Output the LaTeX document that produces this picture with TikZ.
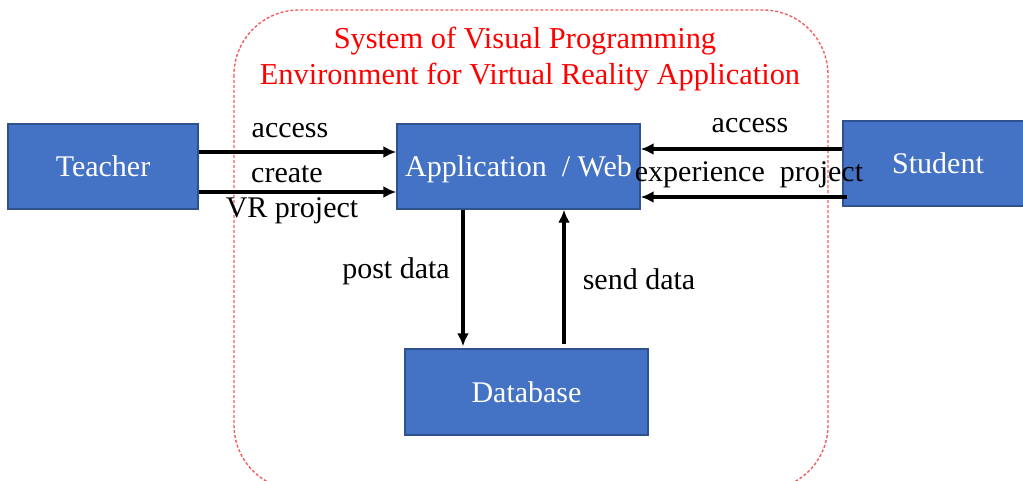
\documentclass[tikz,border=0pt]{standalone}
\usepackage{fontspec}
\setmainfont{Liberation Serif}
\usetikzlibrary{arrows.meta}
\definecolor{boxfill}{HTML}{4472C4}
\definecolor{boxedge}{HTML}{2F528F}
\definecolor{sysedge}{RGB}{240,95,95}
\begin{document}
\begin{tikzpicture}[x=1pt,y=-1pt,
  txt/.style={font=\fontsize{30}{35}\selectfont, inner sep=0pt},
  entity/.style={txt, draw=boxedge, line width=1.4pt, fill=boxfill, text=white,
    text height=20pt, text depth=0pt},
  lbl/.style={txt, anchor=base, text=black},
  flow/.style={line width=3.2pt, -{Latex[length=13pt,width=12pt]}},
  sysbound/.style={draw=sysedge, line width=1.4pt, dash pattern=on 3pt off 2pt,
    rounded corners=65pt}]
\useasboundingbox (0,0) rectangle (1023,481);

% system boundary (runs past the lower edge)
\draw[sysbound] (234,10) rectangle (828,490);

% title
\node[lbl, text=red, font=\fontsize{30.4}{36}\selectfont] (title1) at (525,49) {System of Visual Programming};
\node[lbl, text=red, font=\fontsize{30.4}{36}\selectfont] (title2) at (530,85) {Environment for Virtual Reality Application};

% actors and components
\node[entity, minimum width=190pt, minimum height=85pt] (teacher) at (103,166.5) {Teacher};
\node[entity, minimum width=243pt, minimum height=85pt] (app) at (518.5,166.5) {Application\ \ / Web};
\node[entity, minimum width=190pt, minimum height=85pt] (student) at (938,163.5) {Student};
\node[entity, minimum width=243pt, minimum height=86pt] (db) at (526.5,392) {Database};

% teacher -> application
\draw[flow] (teacher.east |- 0,152) -- (app.west |- 0,152);
\draw[flow] (teacher.east |- 0,192) -- (app.west |- 0,192);
\node[lbl] (lacc) at (290,138) {access};
\node[lbl] (lcre) at (287,183) {create};
\node[lbl] (lvr) at (292,218) {VR project};

% student -> application
\draw[flow] (student.west |- 0,149) -- (app.east |- 0,149);
\draw[flow] ([xshift=5pt]student.west |- 0,197) -- (app.east |- 0,197);
\node[lbl] (racc) at (750,133) {access};
\node[lbl] (rexp) at (749,182) {experience\ \ project};

% application <-> database
\draw[flow] (app.south -| 463,0) -- ([yshift=2pt]db.north -| 463,0);
\draw[flow] ([yshift=4pt]db.north -| 564,0) -- (app.south -| 564,0);
\node[lbl] (lpost) at (396,278) {post data};
\node[lbl] (lsend) at (639,290) {send data};
\end{tikzpicture}
\end{document}
